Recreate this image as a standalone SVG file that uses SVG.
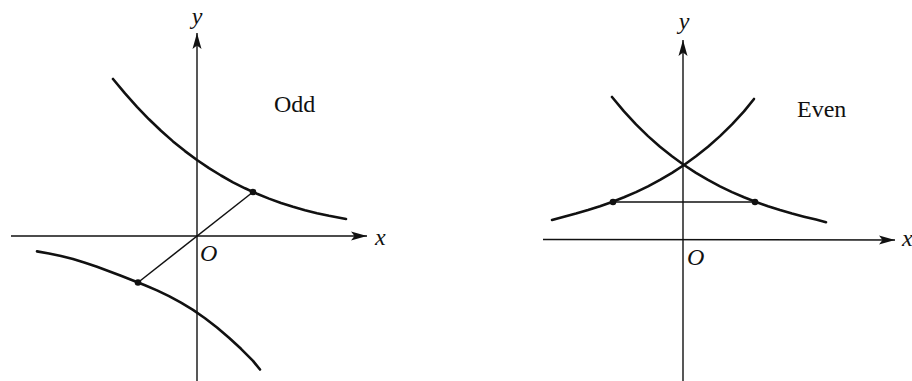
<svg xmlns="http://www.w3.org/2000/svg" width="912" height="381" viewBox="0 0 912 381">
<defs>
<marker id="arr" markerUnits="userSpaceOnUse" markerWidth="17" markerHeight="11" refX="16" refY="5" orient="auto">
<path d="M0,0.5 L16,5 L0,9.5 L3.5,5 Z" fill="#111"/>
</marker>
</defs>
<style>
.axis{stroke:#111;stroke-width:1.4;fill:none}
.curve{stroke:#111;stroke-width:2.6;fill:none;stroke-linejoin:round;stroke-linecap:round}
.seg{stroke:#111;stroke-width:1.5;fill:none}
.dot{fill:#111}
.math{font-family:"Liberation Serif","DejaVu Serif",serif;font-style:italic;font-size:24px;fill:#111}
.lbl{font-family:"Liberation Serif","DejaVu Serif",serif;font-size:24px;fill:#111}
</style>
<rect width="912" height="381" fill="#fff"/>
<g id="odd">
<g id="odd-axes">
<line class="axis" x1="11" y1="236" x2="367" y2="236" marker-end="url(#arr)"/>
<line class="axis" x1="197" y1="381" x2="197" y2="33" marker-end="url(#arr)"/>
</g>
<g id="odd-curves">
<path class="curve" d="M113,79 L125,93.4 L137,106.8 L149,119.3 L161,130.8 L173,141.4 L185,151.1 L197,160 L209,168.1 L221,175.5 L233,182.3 L245,188.3 L257,193.8 L269,198.6 L281,203 L293,206.8 L305,210.2 L317,213.2 L329,215.8 L346,219"/>
<path class="curve" d="M37,251.4 L49,253.5 L61,256.1 L73,259.1 L85,262.8 L97,266.8 L109,271.2 L121,275.8 L133,280.5 L145,285.3 L157,290.4 L169,296.1 L181,302.6 L193,309.9 L205,318.2 L217,327.5 L229,337.7 L241,348.8 L253,360.9 L260,369.5"/>
</g>
<g id="odd-connector">
<line class="seg" x1="253" y1="192" x2="138" y2="282.5"/>
<circle class="dot" cx="253" cy="192" r="3.3"/>
<circle class="dot" cx="138" cy="282.5" r="3.3"/>
</g>
<g id="odd-labels">
<text class="math" x="197" y="24" text-anchor="middle">y</text>
<text class="math" x="375" y="245">x</text>
<text class="math" x="200" y="261">O</text>
<text class="lbl" x="274" y="112">Odd</text>
</g>
</g>
<g id="even">
<g id="even-axes">
<line class="axis" x1="543" y1="239.5" x2="895" y2="240" marker-end="url(#arr)"/>
<line class="axis" x1="683" y1="381" x2="683" y2="40" marker-end="url(#arr)"/>
</g>
<g id="even-curves">
<path class="curve" d="M612,97 L624,111.4 L636,124.4 L648,136.1 L660,146.7 L672,156.3 L684,165 L696,172.8 L708,179.9 L720,186.3 L732,192.1 L744,197.3 L756,202 L768,206.3 L780,210.1 L792,213.6 L804,216.7 L816,219.6 L826,222.2"/>
<path class="curve" d="M552,220 L564,216.7 L576,213.6 L588,210.1 L600,206.3 L612,202 L624,197.3 L636,192.1 L648,186.3 L660,179.9 L672,172.8 L684,165 L696,156.3 L708,146.7 L720,136.1 L732,124.4 L744,111.4 L754,99"/>
</g>
<g id="even-connector">
<line class="seg" x1="613" y1="202" x2="755" y2="202"/>
<circle class="dot" cx="613" cy="202" r="3.3"/>
<circle class="dot" cx="755" cy="202" r="3.3"/>
</g>
<g id="even-labels">
<text class="math" x="684" y="29" text-anchor="middle">y</text>
<text class="math" x="902" y="246">x</text>
<text class="math" x="687" y="265">O</text>
<text class="lbl" x="797" y="117">Even</text>
</g>
</g>
</svg>
